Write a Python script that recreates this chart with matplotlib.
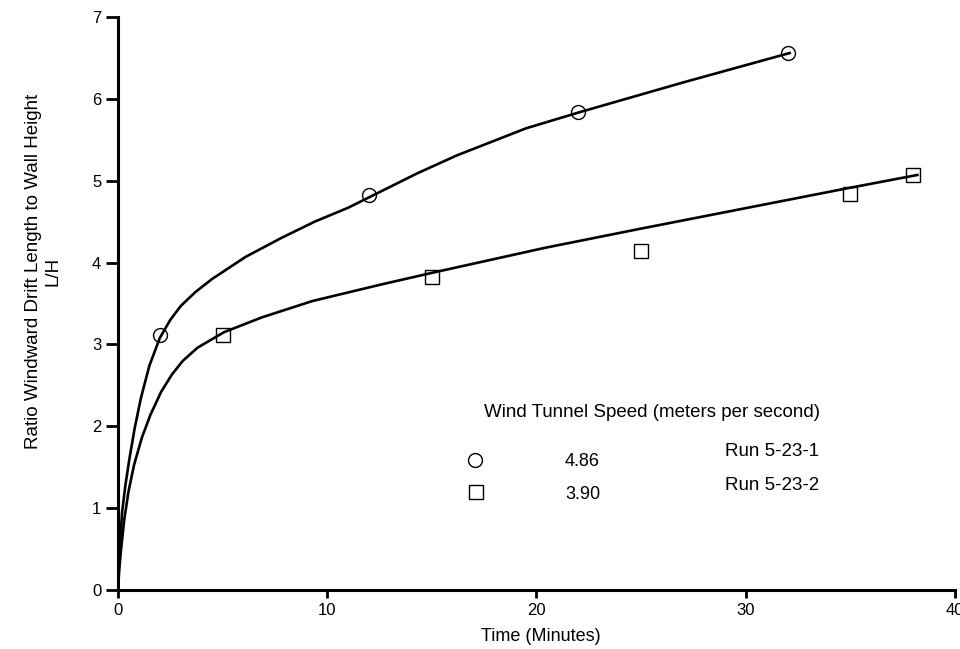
import matplotlib
matplotlib.use("Agg")
from matplotlib import pyplot as plt

plt.rcParams['font.family'] = ['Liberation Sans', 'DejaVu Sans']

# measured points
run1_t = [2, 12, 22, 32]
run1_lh = [3.11, 4.83, 5.84, 6.56]
run2_t = [5, 15, 25, 35, 38]
run2_lh = [3.12, 3.82, 4.14, 4.84, 5.07]

# hand drawn fit curves
fit1_t = [0, 0.03, 0.1, 0.2, 0.36, 0.55, 0.8, 1.1, 1.5, 2.0, 2.5, 3.0, 3.7, 4.5,
          6.1, 7.8, 9.4, 11.0, 12.1, 14.3, 16.2, 19.5, 22.1, 27.0, 32.1]
fit1_lh = [0, 0.2, 0.6, 0.96, 1.29, 1.61, 1.98, 2.35, 2.74, 3.08, 3.30, 3.47, 3.64, 3.80,
           4.07, 4.30, 4.50, 4.67, 4.81, 5.09, 5.31, 5.64, 5.84, 6.20, 6.56]
fit2_t = [0, 0.06, 0.14, 0.3, 0.5, 0.77, 1.14, 1.55, 2.06, 2.57, 3.1, 3.8, 5.07,
          6.87, 9.29, 12.54, 15.1, 20.4, 24.9, 30.1, 34.9, 38.2]
fit2_lh = [0, 0.25, 0.48, 0.86, 1.2, 1.53, 1.86, 2.14, 2.42, 2.63, 2.80, 2.96, 3.15,
           3.33, 3.53, 3.73, 3.88, 4.18, 4.41, 4.67, 4.91, 5.07]

xticks = [0, 10, 20, 30, 40]
yticks = [0, 1, 2, 3, 4, 5, 6, 7]

fig = plt.figure(figsize=(9.6, 6.49), dpi=100)
ax = fig.add_axes([0.1229, 0.0909, 0.8719, 0.8829])

ax.plot(fit1_t, fit1_lh, color="black", lw=1.9, solid_joinstyle="round")
ax.plot(fit2_t, fit2_lh, color="black", lw=1.9, solid_joinstyle="round")
ax.plot(run1_t, run1_lh, "o", ms=10, mfc="none", mec="black", mew=1.0)
ax.plot(run2_t, run2_lh, "s", ms=10, mfc="none", mec="black", mew=1.0)

ax.set_xlim(0, 40)
ax.set_ylim(0, 7)
ax.set_xticks(xticks)
ax.set_yticks(yticks)
ax.spines["top"].set_visible(False)
ax.spines["right"].set_visible(False)
ax.spines["left"].set_linewidth(2.2)
ax.spines["bottom"].set_linewidth(2.2)
ax.tick_params(axis="y", direction="out", length=9, width=2, labelsize=12, pad=3)
ax.tick_params(axis="x", direction="out", length=6, width=2, labelsize=12, pad=3)

# legend block drawn by hand
fs = 13.5
ax.text(0.437, 0.309, "Wind Tunnel Speed (meters per second)", transform=ax.transAxes,
        ha="left", va="center", fontsize=fs)
ax.plot([0.4265], [0.227], "o", ms=10, mfc="none", mec="black", mew=1.0,
        transform=ax.transAxes, clip_on=False)
ax.text(0.534, 0.225, "4.86", transform=ax.transAxes, ha="left", va="center", fontsize=13)
ax.text(0.725, 0.241, "Run 5-23-1", transform=ax.transAxes, ha="left", va="center", fontsize=fs)
ax.plot([0.428], [0.171], "s", ms=10, mfc="none", mec="black", mew=1.0,
        transform=ax.transAxes, clip_on=False)
ax.text(0.534, 0.1675, "3.90", transform=ax.transAxes, ha="left", va="center", fontsize=13)
ax.text(0.725, 0.183, "Run 5-23-2", transform=ax.transAxes, ha="left", va="center", fontsize=fs)

fig.text(0.045, 0.582, "Ratio Windward Drift Length to Wall Height\nL/H",
         rotation=90, ha="center", va="center", multialignment="center", fontsize=13.5)
fig.text(0.5635, 0.02, "Time (Minutes)", ha="center", va="center", fontsize=13)

fig.savefig("out.png", dpi=100)
